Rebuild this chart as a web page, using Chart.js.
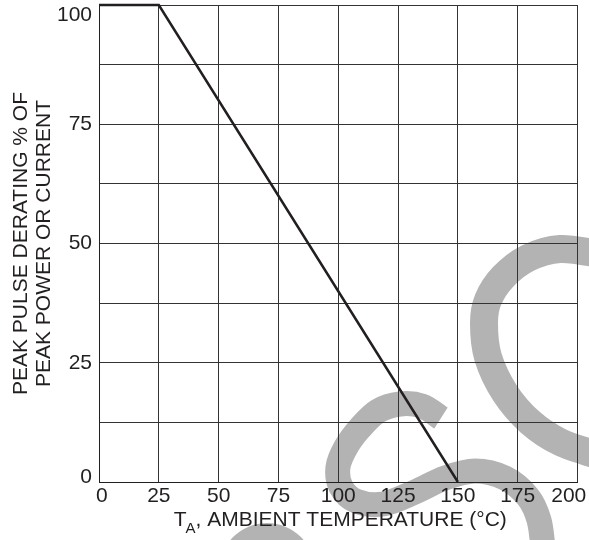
<!DOCTYPE html>
<html>
<head>
<meta charset="utf-8">
<script src="https://cdn.jsdelivr.net/npm/chart.js@4.4.0/dist/chart.umd.min.js"></script>
<style>
html,body{margin:0;padding:0;background:#ffffff;overflow:hidden}
#wrap{width:589px;height:540px;position:relative}
</style>
</head>
<body>
<div id="wrap"><canvas id="c" width="589" height="540"></canvas></div>
<script>
// ---- data ----
const temperature = [0, 25, 150];
const derating = [100, 100, 0];
const xTickValues = [0, 25, 50, 75, 100, 125, 150, 175, 200];
const xTickLabels = ['0', '25', '50', '75', '100', '125', '150', '175', '200'];
const yGridValues = [0, 12.5, 25, 37.5, 50, 62.5, 75, 87.5, 100];
const yTickLabels = ['0', '', '25', '', '50', '', '75', '', '100'];
const yTitle = ['PEAK PULSE DERATING % OF', 'PEAK POWER OR CURRENT'];
const xTitleMain = 'T';
const xTitleSub = 'A';
const xTitleRest = ', AMBIENT TEMPERATURE (°C)';

// ---- styles ----
const FONT = '"Liberation Sans", Arial, Helvetica, sans-serif';
const INK = '#231f20';
const GRID = '#333333';
const MARK = '#b3b3b3';

function smoothPath(ctx, pts) {
  ctx.moveTo(pts[0][0], pts[0][1]);
  for (let i = 0; i < pts.length - 1; i++) {
    const p0 = pts[i - 1] || pts[i];
    const p1 = pts[i];
    const p2 = pts[i + 1];
    const p3 = pts[i + 2] || p2;
    ctx.bezierCurveTo(
      p1[0] + (p2[0] - p0[0]) / 6, p1[1] + (p2[1] - p0[1]) / 6,
      p2[0] - (p3[0] - p1[0]) / 6, p2[1] - (p3[1] - p1[1]) / 6,
      p2[0], p2[1]);
  }
}

const watermark = {
  id: 'watermark',
  beforeDraw(chart) {
    const ctx = chart.ctx;
    ctx.save();
    ctx.strokeStyle = MARK;
    ctx.fillStyle = MARK;
    ctx.lineCap = 'butt';
    ctx.lineJoin = 'round';
    // big right arc
    ctx.lineWidth = 28;
    ctx.beginPath();
    smoothPath(ctx, [[600,254],[560,249],[528,258],[503,277],[488,300],[484,323],[488,357],[505,393],[530,422],[560,442],[600,456]]);
    ctx.stroke();
    // S-shaped stroke
    ctx.lineWidth = 25;
    ctx.beginPath();
    smoothPath(ctx, [[441,418],[422,406],[400,404],[378,411],[360,428],[346,447],[338,467],[341,487],[356,501],[383,504],[415,492],[445,478],[475,471],[505,478],[528,497],[539,520],[543,548]]);
    ctx.stroke();
    // bottom-left hump
    ctx.beginPath();
    ctx.arc(267, 571, 48, 0, Math.PI * 2);
    ctx.fill();
    ctx.restore();
  }
};

const xTitlePlugin = {
  id: 'xTitle',
  afterDraw(chart) {
    const ctx = chart.ctx;
    const area = chart.chartArea;
    ctx.save();
    ctx.fillStyle = INK;
    ctx.textBaseline = 'alphabetic';
    ctx.textAlign = 'left';
    const mainFont = '21px ' + FONT;
    const subFont = '15px ' + FONT;
    ctx.font = mainFont;
    const wT = ctx.measureText(xTitleMain).width;
    const wR = ctx.measureText(xTitleRest).width;
    ctx.font = subFont;
    const wA = ctx.measureText(xTitleSub).width;
    const total = wT - 1 + wA + wR;
    const cx = (area.left + area.right) / 2 + 2;
    let x = cx - total / 2;
    const base = area.bottom + 44;
    ctx.font = mainFont;
    ctx.fillText(xTitleMain, x, base);
    x += wT - 1;
    ctx.font = subFont;
    ctx.fillText(xTitleSub, x, base + 7);
    x += wA;
    ctx.font = mainFont;
    ctx.fillText(xTitleRest, x, base);
    ctx.restore();
  }
};

const points = temperature.map((t, i) => ({ x: t, y: derating[i] }));

new Chart(document.getElementById('c'), {
  type: 'scatter',
  data: {
    datasets: [{
      data: points,
      showLine: true,
      borderColor: INK,
      borderWidth: 2.5,
      pointRadius: 0,
      pointHoverRadius: 0,
      fill: false,
      tension: 0,
      clip: false
    }]
  },
  plugins: [watermark, xTitlePlugin],
  options: {
    responsive: false,
    animation: false,
    events: [],
    layout: { padding: { left: 0, right: 11.5, top: 5, bottom: 0 } },
    plugins: { legend: { display: false }, tooltip: { enabled: false } },
    scales: {
      x: {
        type: 'linear',
        min: 0,
        max: 200,
        afterBuildTicks: (s) => { s.ticks = xTickValues.map(v => ({ value: v })); },
        afterFit: (s) => { s.height = 58; s.paddingLeft = 0; s.paddingRight = 0; },
        ticks: {
          autoSkip: false,
          maxRotation: 0,
          minRotation: 0,
          padding: 2,
          color: INK,
          font: { family: FONT, size: 21, lineHeight: 1.2 },
          callback: (v, i) => {
            const l = xTickLabels[i];
            if (i === 0) return ' ' + l;
            if (i === xTickLabels.length - 1) return l + '   ';
            return l;
          }
        },
        grid: { color: GRID, lineWidth: 1, drawTicks: false },
        border: { display: true, color: INK, width: 1 }
      },
      y: {
        type: 'linear',
        min: 0,
        max: 100,
        afterBuildTicks: (s) => { s.ticks = yGridValues.map(v => ({ value: v })); },
        afterFit: (s) => { s.width = 99; s.paddingTop = 0; s.paddingBottom = 0; },
        ticks: {
          autoSkip: false,
          padding: 7,
          color: INK,
          font: (c) => {
            const v = c.tick ? c.tick.value : null;
            let lh = 1.2;
            if (v === 100) lh = '20px';
            else if (v === 0) lh = '9px';
            return { family: FONT, size: 21, lineHeight: lh };
          },
          callback: (v, i) => {
            const l = yTickLabels[i];
            if (!l) return '';
            if (v === 100) return ['', l];
            if (v === 0) return [l, ''];
            return l;
          }
        },
        title: {
          display: true,
          text: yTitle,
          color: INK,
          font: { family: FONT, size: 21, lineHeight: '22.5px' },
          padding: { top: 10, bottom: 0 }
        },
        grid: { color: GRID, lineWidth: 1, drawTicks: false },
        border: { display: true, color: INK, width: 1 }
      }
    }
  }
});
</script>
</body>
</html>
